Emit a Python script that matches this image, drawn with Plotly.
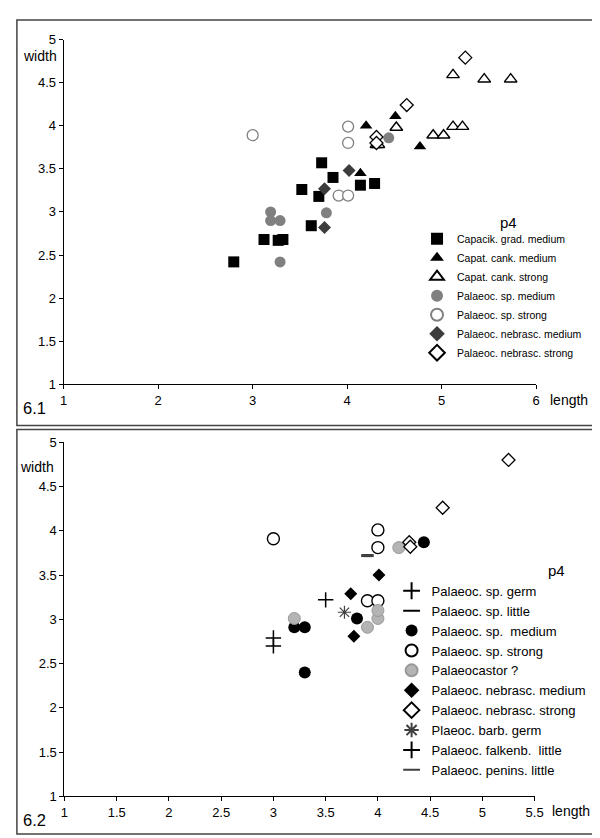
import plotly.graph_objects as go

FONT = "Liberation Sans, Arial, sans-serif"

# ---------------- Panel 6.1 data ----------------
cap_grad_med_x = [2.80, 3.12, 3.27, 3.32, 3.52, 3.62, 3.70, 3.73, 3.85, 4.14, 4.29]
cap_grad_med_y = [2.42, 2.68, 2.67, 2.68, 3.26, 2.84, 3.18, 3.57, 3.40, 3.31, 3.33]

cap_cank_med_x = [4.20, 4.51, 4.14, 4.77]
cap_cank_med_y = [4.00, 4.11, 3.45, 3.76]

cap_cank_str_x = [5.12, 5.45, 5.73, 4.91, 5.02, 5.12, 5.22, 4.52, 4.31, 4.33]
cap_cank_str_y = [4.59, 4.54, 4.54, 3.89, 3.89, 3.99, 3.99, 3.98, 3.78, 3.78]

pal_sp_med_x = [3.19, 3.19, 3.29, 3.78, 3.29, 4.44]
pal_sp_med_y = [3.00, 2.90, 2.90, 2.99, 2.42, 3.86]

pal_sp_str_x = [3.00, 4.01, 4.01, 3.91, 4.01]
pal_sp_str_y = [3.89, 3.99, 3.80, 3.19, 3.19]

pal_neb_med_x = [4.02, 3.76, 3.76]
pal_neb_med_y = [3.48, 3.27, 2.82]

pal_neb_str_x = [5.25, 4.63, 4.31, 4.31]
pal_neb_str_y = [4.79, 4.24, 3.87, 3.80]

# ---------------- Panel 6.2 data ----------------
b_sp_germ_x = [3.00, 3.00]
b_sp_germ_y = [2.79, 2.70]

b_sp_little_x = [3.90]
b_sp_little_y = [3.72]

b_sp_med_x = [3.20, 3.30, 3.30, 3.80, 4.44]
b_sp_med_y = [2.91, 2.91, 2.40, 3.01, 3.87]

b_sp_str_x = [3.00, 4.00, 4.00, 3.90, 4.00]
b_sp_str_y = [3.91, 4.01, 3.81, 3.21, 3.21]

b_castor_x = [3.20, 3.90, 4.00, 4.00, 4.20]
b_castor_y = [3.01, 2.91, 3.01, 3.10, 3.81]

b_neb_med_x = [4.01, 3.74, 3.77]
b_neb_med_y = [3.50, 3.29, 2.81]

b_neb_str_x = [5.25, 4.62, 4.30, 4.31]
b_neb_str_y = [4.80, 4.26, 3.87, 3.82]

b_barb_germ_x = [3.68]
b_barb_germ_y = [3.08]

b_falk_little_x = [3.50]
b_falk_little_y = [3.22]

b_penins_little_x = [3.90]
b_penins_little_y = [3.72]

top_names = ["Capacik. grad. medium", "Capat. cank. medium", "Capat. cank. strong",
             "Palaeoc. sp. medium", "Palaeoc. sp. strong",
             "Palaeoc. nebrasc. medium", "Palaeoc. nebrasc. strong"]
bot_names = ["Palaeoc. sp. germ", "Palaeoc. sp. little", "Palaeoc. sp.  medium",
             "Palaeoc. sp. strong", "Palaeocastor ?", "Palaeoc. nebrasc. medium",
             "Palaeoc. nebrasc. strong", "Plaeoc. barb. germ",
             "Palaeoc. falkenb.  little", "Palaeoc. penins. little"]

fig = go.Figure()

def add(x, y, name, marker, xa, ya, legend):
    fig.add_trace(go.Scatter(x=x, y=y, name=name, mode="markers", marker=marker,
                             xaxis=xa, yaxis=ya, legend=legend, cliponaxis=False))

top_data = [
    (cap_grad_med_x, cap_grad_med_y, dict(symbol="square", size=11, color="black", line=dict(width=0))),
    (cap_cank_med_x, cap_cank_med_y, dict(symbol="triangle-up", size=11, color="black", line=dict(width=0))),
    (cap_cank_str_x, cap_cank_str_y, dict(symbol="triangle-up", size=11, color="white", line=dict(width=1.4, color="black"))),
    (pal_sp_med_x, pal_sp_med_y, dict(symbol="circle", size=11, color="#808080", line=dict(width=0))),
    (pal_sp_str_x, pal_sp_str_y, dict(symbol="circle", size=11, color="white", line=dict(width=1.3, color="#808080"))),
    (pal_neb_med_x, pal_neb_med_y, dict(symbol="diamond", size=10, color="#3c3c3c", line=dict(width=0))),
    (pal_neb_str_x, pal_neb_str_y, dict(symbol="diamond", size=10, color="white", line=dict(width=1.3, color="black"))),
]
for (x, y, m), n in zip(top_data, top_names):
    add(x, y, n, m, "x", "y", "legend")

bot_data = [
    (b_sp_germ_x, b_sp_germ_y, dict(symbol="cross-thin-open", size=11, color="black", line=dict(width=1.5, color="black"))),
    (b_sp_little_x, b_sp_little_y, dict(symbol="line-ew-open", size=6, color="black", line=dict(width=3, color="black"))),
    (b_sp_med_x, b_sp_med_y, dict(symbol="circle", size=12, color="black", line=dict(width=0))),
    (b_sp_str_x, b_sp_str_y, dict(symbol="circle", size=12, color="white", line=dict(width=1.4, color="black"))),
    (b_castor_x, b_castor_y, dict(symbol="circle", size=12, color="#b4b4b4", line=dict(width=1, color="#999999"))),
    (b_neb_med_x, b_neb_med_y, dict(symbol="diamond", size=10, color="black", line=dict(width=0))),
    (b_neb_str_x, b_neb_str_y, dict(symbol="diamond", size=10, color="white", line=dict(width=1.3, color="black"))),
    (b_barb_germ_x, b_barb_germ_y, dict(symbol="asterisk-open", size=11, color="#404040", line=dict(width=1.2, color="#404040"))),
    (b_falk_little_x, b_falk_little_y, dict(symbol="cross-thin-open", size=11, color="black", line=dict(width=1.5, color="black"))),
    (b_penins_little_x, b_penins_little_y, dict(symbol="line-ew-open", size=9, color="#404040", line=dict(width=3, color="#404040"))),
]
for (x, y, m), n in zip(bot_data, bot_names):
    add(x, y, n, m, "x2", "y2", "legend2")

W, H = 600, 838
def px(v): return v / W
def py(v): return 1 - v / H

axis_common = dict(showline=True, linecolor="black", linewidth=1, ticks="outside",
                   ticklen=4, tickcolor="black", showgrid=False, zeroline=False,
                   tickfont=dict(family=FONT, size=13, color="black"), fixedrange=True)

fig.update_layout(
    width=W, height=H, margin=dict(l=0, r=0, t=0, b=0),
    paper_bgcolor="white", plot_bgcolor="white",
    font=dict(family=FONT, color="black"),
    xaxis=dict(domain=[px(52.8), px(535.8)], range=[1, 6], dtick=1, anchor="y", **axis_common),
    yaxis=dict(domain=[py(376), py(25)], range=[1, 5], dtick=0.5, anchor="x", **axis_common),
    xaxis2=dict(domain=[px(53.6), px(534.2)], range=[1, 5.5], dtick=0.5, anchor="y2", **axis_common),
    yaxis2=dict(domain=[py(795.7), py(435)], range=[1, 5], dtick=0.5, anchor="x2", **axis_common),
    legend=dict(x=px(414), y=py(213), xanchor="left", yanchor="top",
                font=dict(family=FONT, size=10.5, color="black"),
                bgcolor="rgba(0,0,0,0)", itemsizing="constant", tracegroupgap=0),
    legend2=dict(x=px(388), y=py(571), xanchor="left", yanchor="top",
                 font=dict(family=FONT, size=13, color="black"),
                 bgcolor="rgba(0,0,0,0)", itemsizing="constant", tracegroupgap=0),
    shapes=[
        dict(type="rect", xref="paper", yref="paper", x0=px(5), x1=px(595), y0=py(418), y1=py(5),
             line=dict(color="#444444", width=1.5)),
        dict(type="rect", xref="paper", yref="paper", x0=px(5), x1=px(595), y0=py(834), y1=py(422),
             line=dict(color="#444444", width=1.5)),
    ],
    annotations=[
        dict(text="width", x=px(48), y=py(42), xref="paper", yref="paper", xanchor="right", yanchor="middle",
             showarrow=False, font=dict(family=FONT, size=14)),
        dict(text="length", x=px(548), y=py(392), xref="paper", yref="paper", xanchor="left", yanchor="middle",
             showarrow=False, font=dict(family=FONT, size=14)),
        dict(text="6.1", x=px(9), y=py(400), xref="paper", yref="paper", xanchor="left", yanchor="middle",
             showarrow=False, font=dict(family=FONT, size=16.5)),
        dict(text="p4", x=px(508), y=py(211), xref="paper", yref="paper", xanchor="center", yanchor="middle",
             showarrow=False, font=dict(family=FONT, size=15)),
        dict(text="width", x=px(45), y=py(460), xref="paper", yref="paper", xanchor="right", yanchor="middle",
             showarrow=False, font=dict(family=FONT, size=14)),
        dict(text="length", x=px(550), y=py(811), xref="paper", yref="paper", xanchor="left", yanchor="middle",
             showarrow=False, font=dict(family=FONT, size=14)),
        dict(text="6.2", x=px(9), y=py(820), xref="paper", yref="paper", xanchor="left", yanchor="middle",
             showarrow=False, font=dict(family=FONT, size=16.5)),
        dict(text="p4", x=px(557), y=py(566), xref="paper", yref="paper", xanchor="center", yanchor="middle",
             showarrow=False, font=dict(family=FONT, size=15)),
    ],
)

fig.write_html("out.html")
